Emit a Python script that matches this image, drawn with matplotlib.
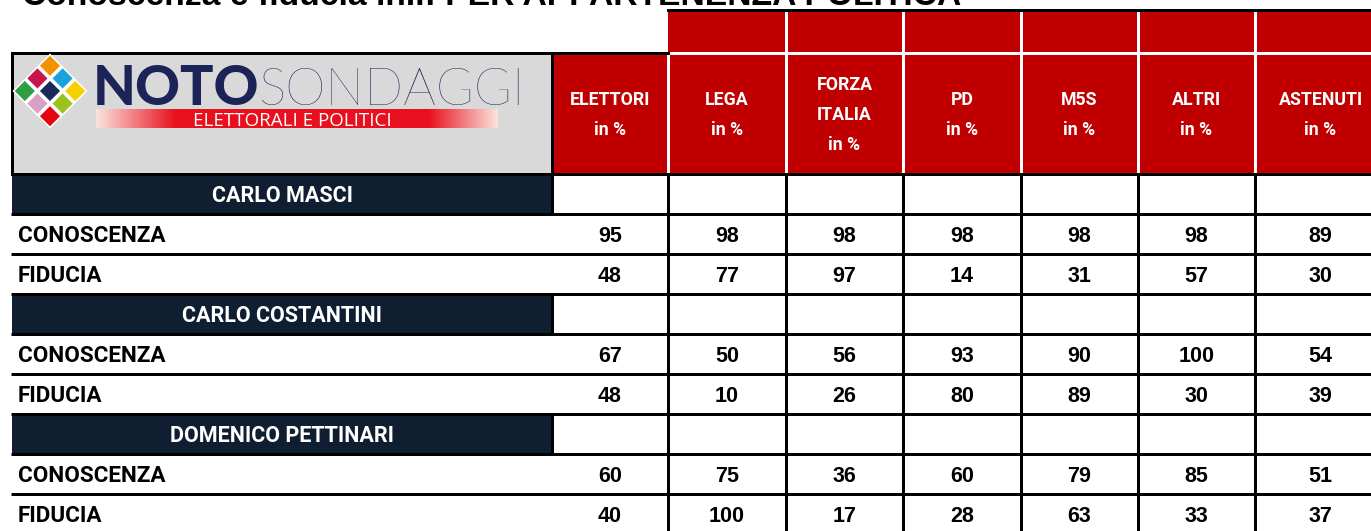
import matplotlib
matplotlib.use("Agg")
import matplotlib.pyplot as plt
import matplotlib.patches as mpatches
import numpy as np
from matplotlib.colors import LinearSegmentedColormap

# ---------------- data ----------------
title = "Conoscenza e fiducia in..: PER APPARTENENZA POLITICA"
parties = ["ELETTORI", "LEGA", "FORZA\nITALIA", "PD", "M5S", "ALTRI", "ASTENUTI"]
unit = "in %"
candidates = ["CARLO MASCI", "CARLO COSTANTINI", "DOMENICO PETTINARI"]
metrics = ["CONOSCENZA", "FIDUCIA"]
masci_conoscenza = [95, 98, 98, 98, 98, 98, 89]
masci_fiducia = [48, 77, 97, 14, 31, 57, 30]
costantini_conoscenza = [67, 50, 56, 93, 90, 100, 54]
costantini_fiducia = [48, 10, 26, 80, 89, 30, 39]
pettinari_conoscenza = [60, 75, 36, 60, 79, 85, 51]
pettinari_fiducia = [40, 100, 17, 28, 63, 33, 37]
values = [
    [masci_conoscenza, masci_fiducia],
    [costantini_conoscenza, costantini_fiducia],
    [pettinari_conoscenza, pettinari_fiducia],
]

# ---------------- layout ----------------
W, H = 1371, 531
RED = "#C00000"
NAVY = "#0F1E30"
GRAY = "#D9D9D9"
col_edges = [552, 668, 786, 903, 1021, 1138, 1255, 1386]
left = 12
band_top, head_top, head_bot = 10, 53, 174
row_h = 40
lw_px = 3.0
lw = lw_px * 0.72

fig = plt.figure(figsize=(W / 100, H / 100), dpi=100)
ax = fig.add_axes([0, 0, 1, 1])
ax.set_xlim(0, W)
ax.set_ylim(H, 0)
ax.axis("off")

LBL = ["Roboto", "DejaVu Sans"]
NUM = ["Liberation Sans", "DejaVu Sans"]

# title (cut off at the top)
ax.text(22, 5, title, fontsize=24.2, fontweight="bold", family=NUM,
        ha="left", va="baseline", color="black")

# header red band + header cells
ax.add_patch(mpatches.Rectangle((col_edges[1], band_top), W - col_edges[1] + 20,
                                head_top - band_top, fc=RED, ec="none"))
ax.add_patch(mpatches.Rectangle((col_edges[0], head_top), W - col_edges[0] + 20,
                                head_bot - head_top, fc=RED, ec="none"))
for i, p in enumerate(parties):
    cx = (col_edges[i] + col_edges[i + 1]) / 2
    ax.text(cx, 115, p + "\n" + unit, color="white", fontsize=12.8, fontweight="bold",
            family=LBL, ha="center", va="center", linespacing=1.85, multialignment="center")
# white separators
for x in col_edges[2:-1]:
    ax.plot([x, x], [band_top, head_bot], color="white", lw=lw, solid_capstyle="butt")
ax.plot([col_edges[1], col_edges[1]], [head_top, head_bot], color="white", lw=lw,
        solid_capstyle="butt")
ax.plot([col_edges[1], W + 20], [head_top, head_top], color="white", lw=lw)
ax.plot([col_edges[1], W + 20], [band_top, band_top], color="black", lw=lw)

# logo box
ax.add_patch(mpatches.Rectangle((left, head_top), col_edges[0] - left, head_bot - head_top,
                                fc=GRAY, ec="black", lw=lw))
ax.plot([col_edges[0], col_edges[1]], [head_top, head_top], color="black", lw=lw)

# logo: diamond of squares
dcx, dcy, d = 50, 91, 12.6
ax.add_patch(mpatches.RegularPolygon((dcx, dcy), 4, radius=37.5, orientation=0,
                                     fc="white", ec="none"))
sq_colors = {(0, 0): "#F39200", (0, 1): "#1BA1DB", (1, 0): "#C8154A",
             (0, 2): "#F6D000", (1, 1): "#1B2A5C", (2, 0): "#2E9E45",
             (1, 2): "#9BC320", (2, 1): "#D9A0C6", (2, 2): "#E30613"}
for (i, j), c in sq_colors.items():
    ax.add_patch(mpatches.RegularPolygon((dcx + (j - i) * d, dcy + (i + j - 2) * d), 4,
                                         radius=0.8 * d, orientation=0, fc=c, ec="none"))
ax.text(93, 105, "NOTO", fontsize=40, fontweight="black", family=["Lato", "DejaVu Sans"],
        color="#1B2357", ha="left", va="baseline")
ax.text(258, 105, "SONDAGGI", fontsize=37, fontweight="light", family=["Lato", "DejaVu Sans"],
        color="#1B2357", ha="left", va="baseline")
grad = np.concatenate([np.linspace(0.0, 1.0, 80), np.ones(250), np.linspace(1.0, 0.0, 70)])
cmap = LinearSegmentedColormap.from_list("g", ["#FBE3DC", "#E8101E"])
ax.imshow(grad[None, :], extent=(96, 498, 128, 109), cmap=cmap, aspect="auto",
          interpolation="bilinear", zorder=2)
ax.text(292, 119, "ELETTORALI E POLITICI", fontsize=13.5, color="white",
        family=["Open Sans", "DejaVu Sans"], ha="center", va="center_baseline", zorder=3)

# body rows
y = head_bot
for ci, cand in enumerate(candidates):
    ax.add_patch(mpatches.Rectangle((left, y), col_edges[0] - left, row_h, fc=NAVY, ec="none"))
    ax.text((left + col_edges[0]) / 2, y + row_h / 2 + 2, cand, color="white", fontsize=15.5,
            fontweight="bold", family=LBL, ha="center", va="center")
    ax.plot([col_edges[0], col_edges[0]], [y, y + row_h], color="black", lw=lw,
            solid_capstyle="butt")
    y += row_h
    for mi, met in enumerate(metrics):
        ax.text(18, y + row_h / 2 + 2, met, color="black", fontsize=16.2, fontweight="bold",
                family=LBL, ha="left", va="center")
        for k, v in enumerate(values[ci][mi]):
            cx = (col_edges[k] + col_edges[k + 1]) / 2
            ax.text(cx, y + row_h / 2 + 2, str(v), color="black", fontsize=15.5,
                    fontweight="bold", family=NUM, ha="center", va="center")
        y += row_h

# grid lines
n_rows = len(candidates) * (1 + len(metrics))
for k in range(n_rows + 1):
    yy = head_bot + k * row_h
    ax.plot([left - 1, W + 20], [yy, yy], color="black", lw=lw, solid_capstyle="butt")
for x in col_edges[1:-1]:
    ax.plot([x, x], [head_bot, H + 20], color="black", lw=lw, solid_capstyle="butt")

fig.savefig("out.png", dpi=100)
